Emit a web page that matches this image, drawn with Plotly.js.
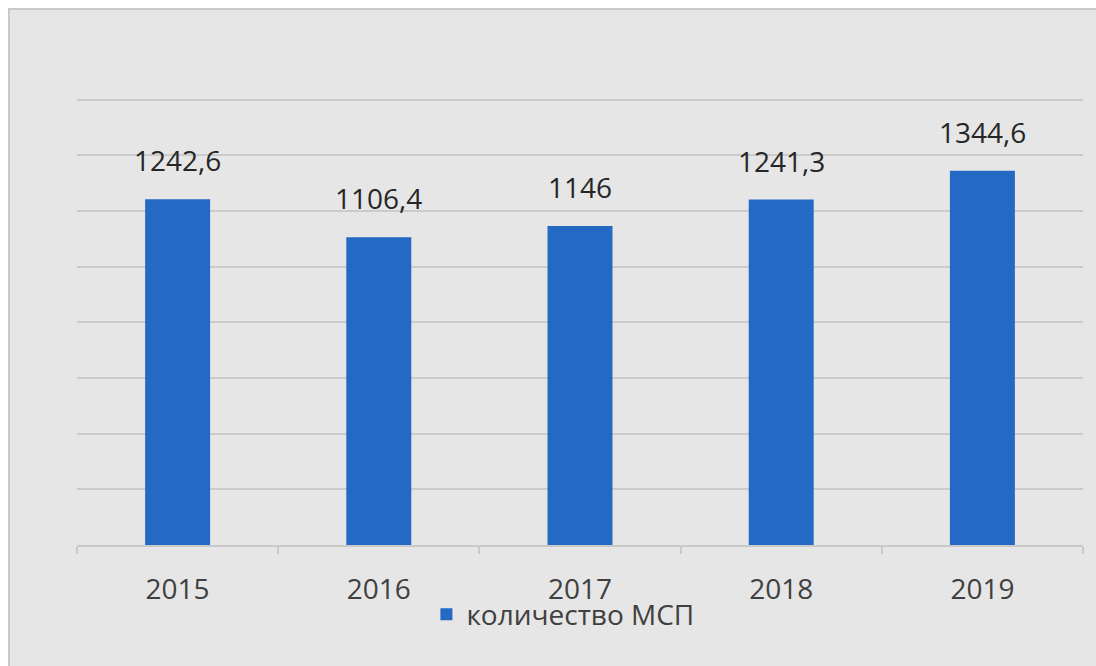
<!DOCTYPE html>
<html>
<head>
<meta charset="utf-8">
<script src="https://cdn.plot.ly/plotly-3.0.1.min.js"></script>
<style>
html,body{margin:0;padding:0;background:#ffffff;width:1096px;height:666px;overflow:hidden;}
#wrap{position:absolute;left:8px;top:8px;border-left:2px solid #c9c9c9;border-top:2px solid #c9c9c9;width:1086px;height:656px;background:#e6e6e6;}
#chart{width:1086px;height:656px;}
</style>
</head>
<body>
<div id="wrap"><div id="chart"></div></div>
<script>
const years = ['2015', '2016', '2017', '2018', '2019'];
const values = [1242.6, 1106.4, 1146, 1241.3, 1344.6];
const seriesName = 'количество МСП';

const fmt = v => String(v).replace('.', ',');
const font = '"Open Sans", "Liberation Sans", Arial, sans-serif';

const trace = {
  type: 'bar',
  x: years,
  y: values,
  name: seriesName,
  marker: {color: '#2469c3'},
  hoverinfo: 'skip'
};

const annotations = years.map((yr, i) => ({
  x: i, y: values[i], xref: 'x', yref: 'y',
  text: fmt(values[i]),
  showarrow: false, yanchor: 'bottom', yshift: 18,
  font: {family: font, size: 28, color: '#262626'}
}));

const layout = {
  width: 1086, height: 656,
  margin: {l: 67, r: 13, t: 87, b: 121, pad: 0},
  paper_bgcolor: '#e6e6e6',
  plot_bgcolor: '#e6e6e6',
  bargap: 0.677,
  showlegend: true,
  legend: {
    orientation: 'h', x: 0.483, xanchor: 'center', y: -0.155, yanchor: 'middle',
    font: {family: font, size: 28, color: '#404040'},
    bgcolor: 'rgba(0,0,0,0)'
  },
  xaxis: {
    type: 'category', range: [-0.5, years.length - 0.5], autorange: false,
    showline: true, linecolor: '#c9c9c9', linewidth: 2,
    ticks: 'outside', tickson: 'boundaries', ticklen: 7, tickcolor: '#c9c9c9', tickwidth: 2,
    ticklabelstandoff: 18, tickangle: 0,
    tickfont: {family: font, size: 28, color: '#404040'},
    showgrid: false, zeroline: false, fixedrange: true
  },
  yaxis: {
    range: [0, 1610], autorange: false, dtick: 200, tick0: 0,
    showgrid: true, gridcolor: '#cbcbcb', gridwidth: 2,
    showticklabels: false, ticks: '', zeroline: false, showline: false, fixedrange: true
  },
  annotations: annotations
};

Plotly.newPlot('chart', [trace], layout, {displayModeBar: false, staticPlot: true});
</script>
</body>
</html>
